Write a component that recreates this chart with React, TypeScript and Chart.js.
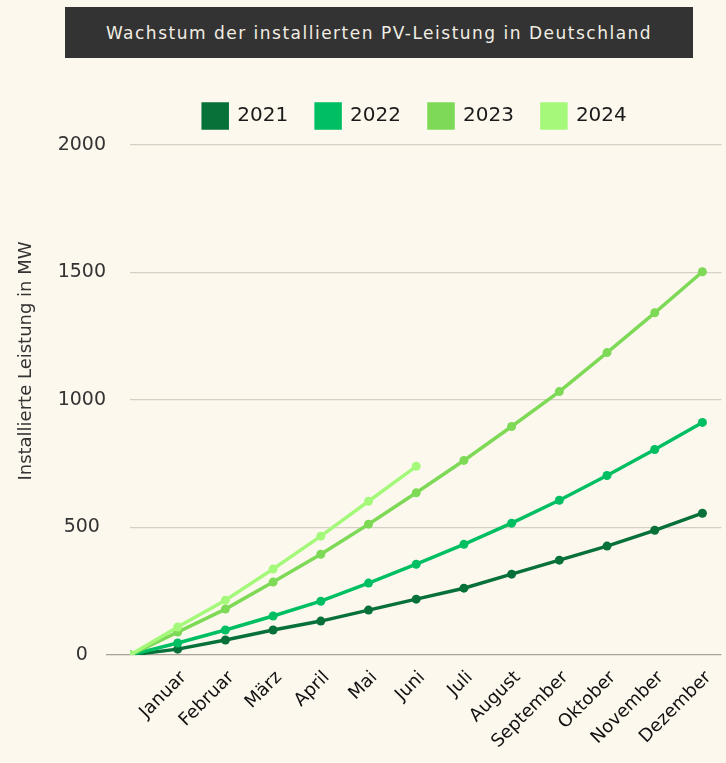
import { useEffect, useRef } from "react";
import { Chart, registerables } from "chart.js";

Chart.register(...registerables);

const chartTitle = "Wachstum der installierten PV-Leistung in Deutschland";
const yAxisTitle = "Installierte Leistung in MW";
const months = ["", "Januar", "Februar", "März", "April", "Mai", "Juni", "Juli", "August", "September", "Oktober", "November", "Dezember"];
const seriesNames = ["2021", "2022", "2023", "2024"];
const series2021 = [0, 23, 59, 98, 133, 176, 219, 262, 317, 372, 427, 489, 556];
const series2022 = [0, 47, 98, 153, 211, 282, 356, 434, 517, 607, 704, 806, 912];
const series2023 = [0, 90, 180, 286, 395, 513, 636, 763, 896, 1033, 1186, 1342, 1503];
const series2024 = [0, 110, 215, 337, 466, 603, 740];
const seriesColors = ["#077139", "#00bf63", "#7ed957", "#a4f97a"];
const yTicks = [0, 500, 1000, 1500, 2000];

const FONT = "'DejaVu Sans', sans-serif";
const BG = "#fdf8ee";

export default function App() {
  const ref = useRef<HTMLCanvasElement | null>(null);

  useEffect(() => {
    if (!ref.current) return;
    const all = [series2021, series2022, series2023, series2024];
    const shiftLegend = {
      id: "shiftLegend",
      afterLayout(chart: any) {
        const lg = chart.legend;
        if (lg) {
          lg.left = 104;
          lg.right = 726;
          lg.top -= 7;
          lg.bottom -= 7;
        }
      },
    };
    const yTitlePlugin = {
      id: "yTitlePlugin",
      afterDraw(chart: any) {
        const ctx = chart.ctx;
        ctx.save();
        ctx.translate(26, 361);
        ctx.rotate(-Math.PI / 2);
        ctx.font = `18px ${FONT}`;
        ctx.fillStyle = "#333333";
        ctx.textAlign = "center";
        ctx.textBaseline = "middle";
        ctx.fillText(yAxisTitle, 0, 0);
        ctx.restore();
      },
    };
    const chart = new Chart(ref.current, {
      type: "line",
      data: {
        datasets: all.map((s, i) => ({
          label: seriesNames[i],
          data: s.map((v, j) => ({ x: j, y: v })),
          borderColor: seriesColors[i],
          backgroundColor: seriesColors[i],
          pointBackgroundColor: seriesColors[i],
          pointBorderColor: seriesColors[i],
          borderWidth: 3.5,
          pointRadius: 4.5,
          pointBorderWidth: 0,
          tension: 0,
          order: 4 - i,
        })),
      },
      options: {
        animation: false,
        responsive: false,
        layout: { padding: { top: 83, left: 0, right: 0, bottom: 0 } },
        plugins: {
          legend: {
            position: "top",
            labels: {
              boxWidth: 24,
              boxHeight: 24,
              padding: 28,
              color: "#1a1a1a",
              font: { family: FONT, size: 20 },
              sort: (a: any, b: any) => a.datasetIndex - b.datasetIndex,
            },
          },
          tooltip: { enabled: false },
        },
        scales: {
          x: {
            type: "linear",
            min: 0,
            max: 12.4,
            afterFit(scale: any) {
              scale.height = 108;
            },
            border: { display: false },
            grid: { display: false },
            ticks: {
              stepSize: 1,
              includeBounds: false,
              autoSkip: false,
              minRotation: 45,
              maxRotation: 45,
              padding: 4,
              labelOffset: 6,
              color: "#111111",
              font: { family: FONT, size: 18 },
              callback: (v: any) => months[v] ?? "",
            },
          },
          y: {
            min: yTicks[0],
            max: yTicks[yTicks.length - 1],
            afterFit(scale: any) {
              scale.width = 130;
            },
            afterBuildTicks(scale: any) {
              scale.ticks = yTicks.map((v) => ({ value: v }));
            },
            border: { display: false },
            grid: {
              color: (ctx: any) => (ctx.tick && ctx.tick.value === 0 ? "#a8a398" : "#d6d0c2"),
              tickColor: (ctx: any) => (ctx.tick && ctx.tick.value === 0 ? "#a8a398" : "rgba(0,0,0,0)"),
              tickLength: 24,
              lineWidth: 1.3,
            },
            ticks: {
              crossAlign: "center",
              padding: 0,
              color: "#333333",
              font: { family: FONT, size: 19 },
              callback: (v: any) => String(v),
            },
            title: { display: false, text: yAxisTitle },
          },
        },
      },
      plugins: [shiftLegend, yTitlePlugin],
    });
    return () => chart.destroy();
  }, []);

  return (
    <div style={{ position: "fixed", left: 0, top: 0, width: 726, height: 763, background: BG, overflow: "hidden" }}>
      <canvas ref={ref} width={726} height={763} style={{ display: "block", position: "absolute", left: 0, top: 0 }} />
      <div
        style={{
          position: "absolute",
          left: 65,
          top: 7,
          width: 628,
          height: 51,
          background: "#333333",
          color: "#f1ede3",
          fontFamily: FONT,
          fontSize: 17,
          letterSpacing: 1.5,
          display: "flex",
          alignItems: "center",
          justifyContent: "center",
        }}
      >
        {chartTitle}
      </div>
    </div>
  );
}
